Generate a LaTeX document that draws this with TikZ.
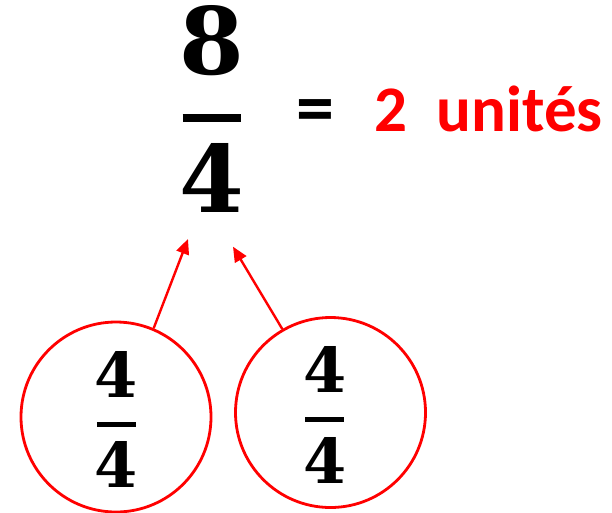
\documentclass[tikz,border=0pt]{standalone}
\usepackage{fontspec}
\usepackage{tikz}
\usetikzlibrary{positioning,arrows.meta}
\newfontfamily\fracfont{DejaVu Serif}
\newfontfamily\unitfont{Carlito}
\tikzset{
    bigdigit/.style={inner sep=0pt, font=\fracfont\bfseries\fontsize{93}{93}\selectfont},
    smalldigit/.style={inner sep=0pt, font=\fracfont\bfseries\fontsize{62}{62}\selectfont},
    unittext/.style={inner sep=0pt, font=\unitfont\bfseries\fontsize{65}{65}\selectfont},
    part/.style={draw=red, line width=2.8pt, circle, minimum size=190pt, inner sep=0pt},
    pointer/.style={draw=red, line width=2.4pt, -{Triangle[length=15pt,width=13pt]}}
}

\begin{document}
\begin{tikzpicture}[x=1pt,y=-1pt]
    \useasboundingbox (0,0) rectangle (612,512);

    % Big fraction 8/4
    \node[bigdigit] (num) at (212.3,41) {8};
    \draw[line width=8pt] (182.7,118) -- (240.7,118);
    \node[bigdigit] (den) at (212,177.5) {4};

    % Equals sign and result
    \node[unittext, anchor=base, font=\unitfont\bfseries\fontsize{76}{76}\selectfont] (eq) at (315.3,133) {=};
    \node[unittext, anchor=base west, text=red] (res) at (374,131) {2\ \ unités};

    % The two wholes, each 4/4
    \foreach \name/\cx/\cy/\fx in {left/116/417/116.5, right/330.5/412.5/324.7}
    {
        \node[part] (\name) at (\cx,\cy) {};
        \node[smalldigit] (\name num) at (\fx,\cy-43) {4};
        \draw[line width=5pt] (\fx-19.6,\cy+7.3) -- (\fx+19.6,\cy+7.3);
        \node[smalldigit] (\name den) at (\fx,\cy+47.5) {4};
    }

    % Arrows from the wholes to the fraction
    \coordinate (tipL) at (188,239);
    \coordinate (tipR) at (233,246.7);
    \draw[pointer] (left.67.7) -- (tipL);
    \draw[pointer] (right.120) -- (tipR);
\end{tikzpicture}
\end{document}
